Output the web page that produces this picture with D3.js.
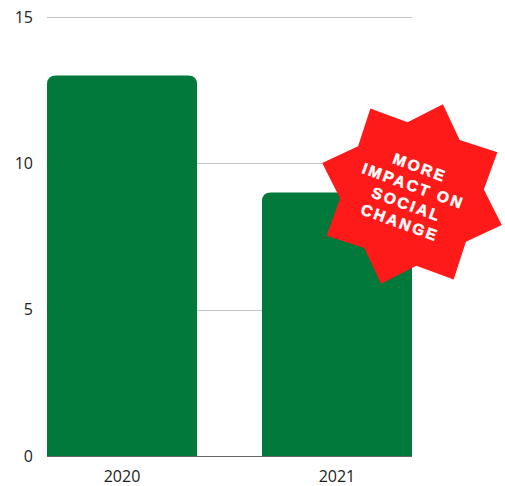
<!DOCTYPE html>
<html>
<head>
<meta charset="utf-8">
<script src="https://cdn.jsdelivr.net/npm/d3@7"></script>
<style>
body{margin:0;background:#fff;}
svg{display:block;}
</style>
</head>
<body>
<div id="chart"></div>
<script>
var w = 505;
var h = 486;

var years = ["2020", "2021"];
var values = [13, 9];
var yTicks = [0, 5, 10, 15];
var burstLines = ["MORE", "IMPACT ON", "SOCIAL", "CHANGE"];

var plotLeft = 47, plotRight = 412, plotTop = 17, plotBottom = 456;
var green = "#00793a";
var red = "#ff1a1a";

var svg = d3.select("#chart").append("svg")
  .attr("width", w)
  .attr("height", h);

var xScale = d3.scaleBand()
  .domain(years)
  .range([plotLeft, plotRight])
  .paddingInner(0.302)
  .paddingOuter(0);

var yScale = d3.scaleLinear()
  .domain([0, 15])
  .range([plotBottom, plotTop]);

// gridlines
svg.append("g")
  .selectAll("line")
  .data(yTicks.filter(function(d){ return d > 0; }))
  .enter().append("line")
  .attr("x1", plotLeft)
  .attr("x2", plotRight)
  .attr("y1", function(d){ return Math.round(yScale(d)) + 0.5; })
  .attr("y2", function(d){ return Math.round(yScale(d)) + 0.5; })
  .attr("stroke", "#c4c4c4")
  .attr("stroke-width", 1);

// y labels
svg.append("g")
  .selectAll("text")
  .data(yTicks)
  .enter().append("text")
  .attr("x", 33)
  .attr("y", function(d){ return yScale(d); })
  .attr("dy", "0.35em")
  .attr("text-anchor", "end")
  .style("font-family", "'Open Sans', sans-serif")
  .style("font-size", "16px")
  .attr("fill", "#222")
  .text(function(d){ return d; });

// bars with rounded tops
function barPath(x, y, bw, bh, r) {
  return "M" + x + "," + (y + bh) +
    "V" + (y + r) +
    "Q" + x + "," + y + " " + (x + r) + "," + y +
    "H" + (x + bw - r) +
    "Q" + (x + bw) + "," + y + " " + (x + bw) + "," + (y + r) +
    "V" + (y + bh) + "Z";
}

svg.append("g")
  .selectAll("path")
  .data(values)
  .enter().append("path")
  .attr("fill", green)
  .attr("d", function(d, i){
    var y = yScale(d);
    return barPath(xScale(years[i]), y, xScale.bandwidth(), plotBottom - y, 9);
  });

// baseline
svg.append("line")
  .attr("x1", plotLeft).attr("x2", plotRight)
  .attr("y1", plotBottom + 0.5).attr("y2", plotBottom + 0.5)
  .attr("stroke", "#666").attr("stroke-width", 1);

// x labels
svg.append("g")
  .selectAll("text")
  .data(years)
  .enter().append("text")
  .attr("x", function(d){ return xScale(d) + xScale.bandwidth() / 2; })
  .attr("y", 482)
  .attr("text-anchor", "middle")
  .style("font-family", "'Open Sans', sans-serif")
  .style("font-size", "16px")
  .attr("fill", "#222")
  .text(function(d){ return d; });

// starburst callout
var cx = 412, cy = 194, rOut = 95, rIn = 72, rot = 19;
var starPts = [];
for (var i = 0; i < 16; i++) {
  var a = (rot + i * 22.5 - 90) * Math.PI / 180;
  var r = i % 2 === 0 ? rOut : rIn;
  starPts.push([cx + r * Math.cos(a), cy + r * Math.sin(a)]);
}
svg.append("path")
  .attr("d", d3.line()(starPts) + "Z")
  .attr("fill", red);

var label = svg.append("text")
  .attr("transform", "translate(" + 410 + "," + 195 + ") rotate(20)")
  .attr("text-anchor", "middle")
  .style("font-family", "'Liberation Sans', Arial, sans-serif")
  .style("font-weight", "bold")
  .style("font-size", "15.5px")
  .style("letter-spacing", "2.4px")
  .style("stroke", "#fff")
  .style("stroke-width", "0.5px")
  .attr("fill", "#fff");

label.selectAll("tspan")
  .data(burstLines)
  .enter().append("tspan")
  .attr("x", 0)
  .attr("y", function(d, i){ return (i - 1.5) * 19.5 + 5.5; })
  .text(function(d){ return d; });
</script>
</body>
</html>
